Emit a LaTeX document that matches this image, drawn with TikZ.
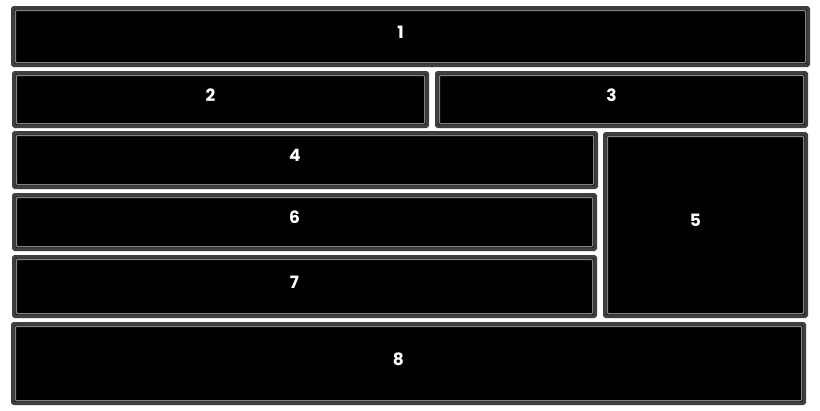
\documentclass[tikz,border=0pt]{standalone}
\usepackage{fontspec}
\setsansfont{Poppins}
\begin{document}
\begin{tikzpicture}[x=1pt,y=-1pt,
  box/.style={draw=boxedge, line width=3.5pt, fill=black, inner sep=0pt, outer sep=0pt,
    rounded corners=1pt,
    path picture={\draw[bevel, line width=1.3pt]
      ([shift={(2.6pt,-2.6pt)}]path picture bounding box.north west) rectangle
      ([shift={(-2.6pt,2.6pt)}]path picture bounding box.south east);}},
  lbl/.style={text=white, font=\sffamily\bfseries\fontsize{17}{20}\selectfont, inner sep=0pt}]
\definecolor{boxedge}{HTML}{3F3F3F}
\definecolor{bevel}{HTML}{838383}
\useasboundingbox[fill=white] (0,0) rectangle (820,410);
\newcommand{\bx}[6]{%
  \pgfmathsetmacro{\bw}{#4-#2-3.5}\pgfmathsetmacro{\bh}{#5-#3-3.5}%
  \node[box, minimum width=\bw pt, minimum height=\bh pt] (#1) at ({(#2+#4)/2},{(#3+#5)/2}) {};
  \node[lbl] (#1l) at ([shift={(-10,-4.5)}]#1.center) {#6};}
\bx{b1}{11}{6}{810}{67}{1}
\bx{b2}{12}{71}{429}{128}{2}
\bx{b3}{435}{71}{808}{128}{3}
\bx{b4}{12}{131}{598}{189}{4}
\bx{b5}{603}{132}{808}{318}{5}
\bx{b6}{12}{193}{597}{251}{6}
\bx{b7}{12}{255}{597}{318}{7}
\bx{b8}{11}{322}{806}{405}{8}
\end{tikzpicture}
\end{document}
